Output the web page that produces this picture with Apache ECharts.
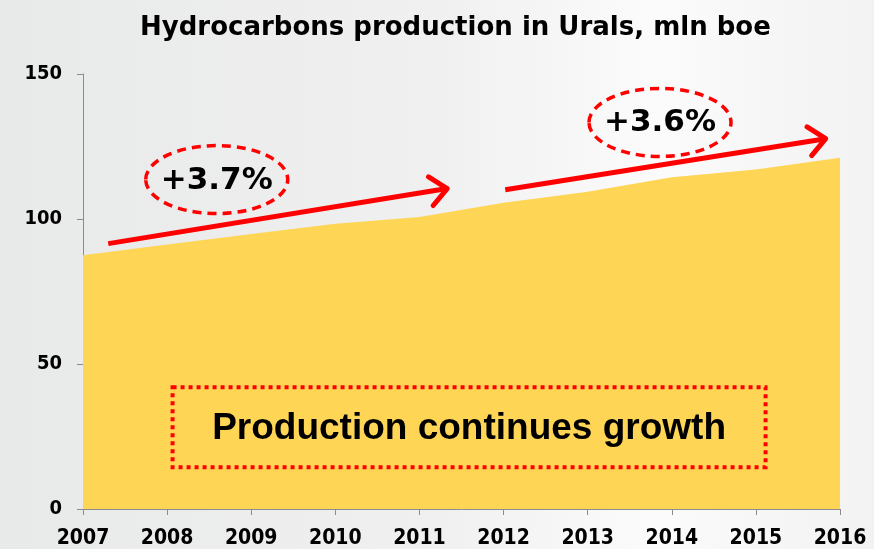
<!DOCTYPE html>
<html>
<head>
<meta charset="utf-8">
<script src="https://cdn.jsdelivr.net/npm/echarts@6/dist/echarts.min.js"></script>
<style>
html,body{margin:0;padding:0;}
#chart{width:874px;height:549px;}
</style>
</head>
<body>
<div id="chart"></div>
<script>
const years = [2007, 2008, 2009, 2010, 2011, 2012, 2013, 2014, 2015, 2016];
const production = [87.5, 91.2, 94.8, 98.4, 100.7, 105.6, 109.4, 114.4, 117.1, 121.1];
const titleText = 'Hydrocarbons production in Urals, mln boe';
const growthArrows = [
  { from: [2007.3, 91.5], to: [2011.33, 110.5] },
  { from: [2012.02, 110.1], to: [2015.83, 127.7] }
];
const growthLabels = [
  { text: '+3.7%', at: [2008.59, 113.6] },
  { text: '+3.6%', at: [2013.86, 133.3] }
];
const boxNote = { text: 'Production continues growth', at: [2011.59, 28.2] };

const chart = echarts.init(document.getElementById('chart'));
const font = 'DejaVu Sans';
const condFont = '"DejaVu Sans Condensed", "DejaVu Sans"';
chart.setOption({
  animation: false,
  backgroundColor: {
    type: 'linear', x: 0, y: 0, x2: 1, y2: 0,
    colorStops: [
      { offset: 0, color: '#e8e9e9' },
      { offset: 0.5, color: '#f0f0f0' },
      { offset: 0.75, color: '#fbfbfb' },
      { offset: 1, color: '#f2f2f2' }
    ]
  },
  title: {
    text: titleText,
    left: 135,
    top: 10,
    textStyle: { fontFamily: font, fontSize: 26, fontWeight: 'bold', color: '#000' }
  },
  grid: { left: 83, right: 34, top: 74, bottom: 40 },
  xAxis: {
    type: 'value',
    min: 2007, max: 2016, interval: 1,
    axisLine: { show: true, lineStyle: { color: '#8c8c8c', width: 1 } },
    axisTick: { show: true, length: 6, lineStyle: { color: '#8c8c8c' } },
    splitLine: { show: false },
    axisLabel: {
      margin: 19,
      fontFamily: condFont, fontSize: 21, fontWeight: 'bold', color: '#000',
      formatter: v => String(v)
    }
  },
  yAxis: {
    type: 'value',
    min: 0, max: 150, interval: 50,
    axisLine: { show: true, lineStyle: { color: '#8c8c8c', width: 1 } },
    axisTick: { show: true, length: 6, lineStyle: { color: '#8c8c8c' } },
    splitLine: { show: false },
    axisLabel: { margin: 21, fontFamily: condFont, fontSize: 20, fontWeight: 'bold', color: '#000' }
  },
  series: [{
    type: 'line',
    data: years.map((y, i) => [y, production[i]]),
    symbol: 'none',
    lineStyle: { width: 0 },
    areaStyle: { color: '#FFD555', opacity: 1 },
    z: 2
  }]
});

function px(p) { return chart.convertToPixel({ gridIndex: 0 }, p); }

const graphics = [];
growthArrows.forEach(a => {
  const s = px(a.from), e = px(a.to);
  const ang = Math.atan2(e[1] - s[1], e[0] - s[0]);
  const L = 22, spread = 0.72;
  const b1 = [e[0] - L * Math.cos(ang - spread), e[1] - L * Math.sin(ang - spread)];
  const b2 = [e[0] - L * Math.cos(ang + spread), e[1] - L * Math.sin(ang + spread)];
  graphics.push({
    type: 'polyline', z: 10,
    shape: { points: [s, e] },
    style: { stroke: '#ff0000', lineWidth: 5, fill: null, lineCap: 'butt' }
  });
  graphics.push({
    type: 'polyline', z: 10,
    shape: { points: [b1, e, b2] },
    style: { stroke: '#ff0000', lineWidth: 5, fill: null, lineCap: 'round', lineJoin: 'round' }
  });
});
growthLabels.forEach(l => {
  const c = px(l.at);
  graphics.push({
    type: 'ellipse', z: 10,
    shape: { cx: c[0], cy: c[1], rx: 71, ry: 34 },
    style: { stroke: '#ff0000', lineWidth: 3.5, fill: null, lineDash: [9, 6] }
  });
  graphics.push({
    type: 'text', z: 11,
    x: c[0], y: c[1] + 1,
    style: {
      text: l.text, fill: '#000', fontFamily: font, fontWeight: 'bold', fontSize: 31,
      align: 'center', verticalAlign: 'middle'
    }
  });
});
(function () {
  const c = px(boxNote.at);
  const w = 593, h = 80;
  graphics.push({
    type: 'rect', z: 10,
    shape: { x: c[0] - w / 2, y: c[1] - h / 2, width: w, height: h },
    style: { stroke: '#ff0000', lineWidth: 4, fill: null, lineDash: [4, 4] }
  });
  graphics.push({
    type: 'text', z: 11,
    x: c[0], y: c[1] + 2,
    style: {
      text: boxNote.text, fill: '#000', fontFamily: 'Liberation Sans', fontWeight: 'bold', fontSize: 37,
      align: 'center', verticalAlign: 'middle'
    }
  });
})();
chart.setOption({ graphic: graphics });
</script>
</body>
</html>
